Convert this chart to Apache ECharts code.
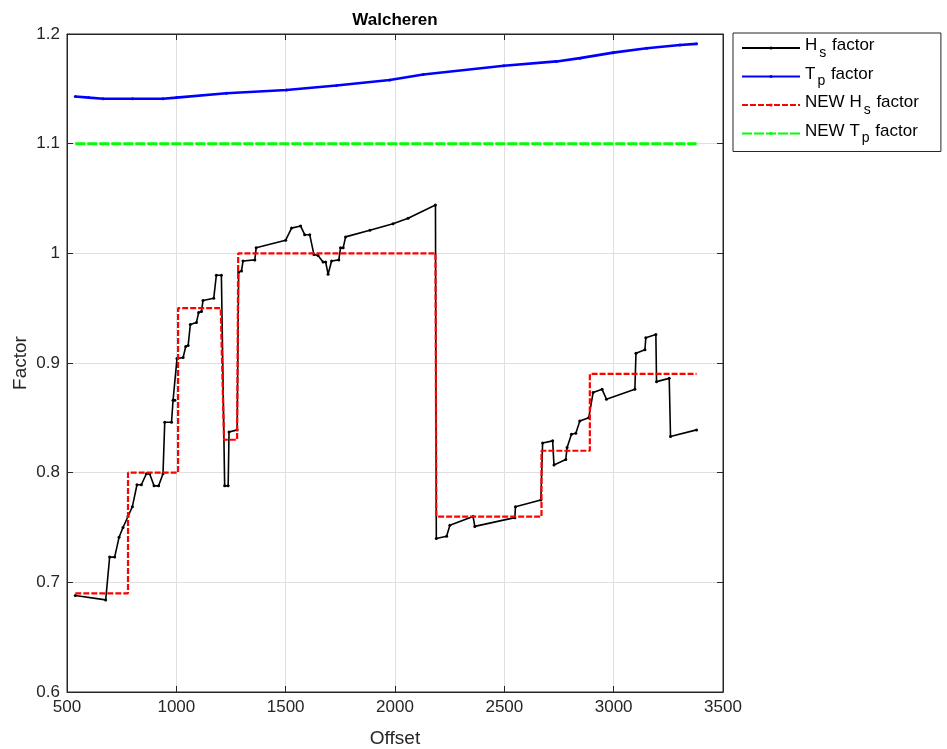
<!DOCTYPE html>
<html><head><meta charset="utf-8">
<script src="https://cdn.jsdelivr.net/npm/echarts@6/dist/echarts.min.js"></script>
<style>html,body{margin:0;padding:0;background:#fff}#c{width:947px;height:749px}</style>
</head><body><div id="c"></div>
<script>
// ---- data ----
const hsX = [538,677,695,718,738,756,779,799,820,840,863,878,898,919,939,947,978,985,993,1003,1031,1043,1054,1064,1092,1102,1115,1122,1171,1183,1206,1221,1237,1241,1278,1285,1298,1305,1359,1365,1500,1527,1568,1587,1610,1629,1648,1671,1683,1694,1710,1743,1751,1763,1774,1885,1991,2060,2185,2189,2236,2251,2357,2365,2548,2551,2667,2675,2721,2727,2781,2787,2807,2827,2845,2886,2906,2947,2967,3097,3102,3143,3147,3193,3196,3254,3260,3379];
const hsY = [0.688,0.684,0.723,0.723,0.741,0.750,0.760,0.769,0.789,0.789,0.799,0.799,0.788,0.788,0.799,0.846,0.846,0.866,0.866,0.904,0.905,0.915,0.916,0.935,0.937,0.946,0.947,0.957,0.959,0.980,0.980,0.788,0.788,0.837,0.839,0.983,0.984,0.993,0.994,1.005,1.012,1.023,1.025,1.017,1.017,0.999,0.998,0.992,0.992,0.981,0.993,0.994,1.005,1.005,1.015,1.021,1.027,1.032,1.044,0.740,0.742,0.752,0.760,0.751,0.759,0.769,0.775,0.827,0.829,0.807,0.812,0.823,0.835,0.836,0.847,0.850,0.873,0.876,0.867,0.876,0.909,0.912,0.923,0.926,0.883,0.886,0.833,0.839];
const tpX = [538,600,665,800,939,1000,1229,1503,1732,1976,2129,2498,2739,2846,2998,3151,3303,3379];
const tpY = [1.143,1.142,1.141,1.141,1.141,1.142,1.146,1.149,1.153,1.158,1.163,1.171,1.175,1.178,1.183,1.187,1.190,1.191];
const newHsX = [538,779,779,1008,1008,1203,1218,1278,1283,2185,2189,2670,2670,2891,2891,3379];
const newHsY = [0.69,0.69,0.80,0.80,0.95,0.95,0.83,0.83,1.0,1.0,0.76,0.76,0.82,0.82,0.89,0.89];
const newTpX = [538,3379];
const newTpY = [1.1,1.1];
const seriesNames = ['Hs factor','Tp factor','NEW Hs factor','NEW Tp factor'];
const legendRich = {
  'Hs factor': '{n|H}{s|s}{n| factor}',
  'Tp factor': '{n|T}{s|p}{n| factor}',
  'NEW Hs factor': '{n|NEW H}{s|s}{n| factor}',
  'NEW Tp factor': '{n|NEW T}{s|p}{n| factor}'
};
const xTicks = {min:500, max:3500, interval:500};
const yTicks = {min:0.6, max:1.2, interval:0.1};

const zip = (a,b)=>a.map((v,i)=>[v,b[i]]);
const FONT = '"Liberation Sans", Arial, sans-serif';
const TXT = '#262626';

const chart = echarts.init(document.getElementById('c'), null, {renderer:'canvas'});
const axisCommonX = {type:'value', min:xTicks.min, max:xTicks.max, interval:xTicks.interval};
const axisCommonY = {type:'value', min:yTicks.min, max:yTicks.max, interval:yTicks.interval};
chart.setOption({
  animation:false,
  backgroundColor:'#fff',
  title:{text:'Walcheren', left:390, top:7, textAlign:'center',
    textStyle:{fontFamily:FONT, fontSize:17, fontWeight:'bold', color:'#000'}},
  grid:{left:67, top:34, right:224, bottom:57, show:true, borderColor:'#262626', borderWidth:1,
    containLabel:false, outerBoundsMode:'none'},
  legend:{
    orient:'vertical', left:733, top:33,
    backgroundColor:'#fff', borderColor:'#262626', borderWidth:1,
    padding:[4,22,6,8], itemGap:5.5, itemWidth:58, itemHeight:4,
    data:seriesNames,
    formatter: n => legendRich[n],
    textStyle:{fontFamily:FONT, color:'#000', rich:{
      n:{fontFamily:FONT, fontSize:17, color:'#000', lineHeight:22, verticalAlign:'top'},
      s:{fontFamily:FONT, fontSize:14, color:'#000', lineHeight:22, verticalAlign:'top', padding:[9,1,0,2]}
    }}
  },
  xAxis:[
    Object.assign({}, axisCommonX, {
      name:'Offset', nameLocation:'middle', nameGap:37, nameMoveOverlap:false,
      nameTextStyle:{fontFamily:FONT, fontSize:19, color:TXT},
      axisLine:{show:true, lineStyle:{color:TXT, width:1}},
      axisTick:{show:true, inside:true, length:6, lineStyle:{color:TXT}},
      axisLabel:{fontFamily:FONT, fontSize:17, color:TXT, margin:7, formatter: v => String(v)},
      splitLine:{show:true, lineStyle:{color:'#dfdfdf', width:1}}
    }),
    Object.assign({}, axisCommonX, {
      position:'top',
      axisLine:{show:true, lineStyle:{color:TXT, width:1}},
      axisTick:{show:true, inside:true, length:6, lineStyle:{color:TXT}},
      axisLabel:{show:false}, splitLine:{show:false}
    })
  ],
  yAxis:[
    Object.assign({}, axisCommonY, {
      name:'Factor', nameLocation:'middle', nameGap:37, nameRotate:90, nameMoveOverlap:false,
      nameTextStyle:{fontFamily:FONT, fontSize:19, color:TXT},
      axisLine:{show:true, lineStyle:{color:TXT, width:1}},
      axisTick:{show:true, inside:true, length:6, lineStyle:{color:TXT}},
      axisLabel:{fontFamily:FONT, fontSize:17, color:TXT, margin:7,
        formatter: v => String(+v.toFixed(1))},
      splitLine:{show:true, lineStyle:{color:'#dfdfdf', width:1}}
    }),
    Object.assign({}, axisCommonY, {
      position:'right',
      axisLine:{show:true, lineStyle:{color:TXT, width:1}},
      axisTick:{show:true, inside:true, length:6, lineStyle:{color:TXT}},
      axisLabel:{show:false}, splitLine:{show:false}
    })
  ],
  series:[
    {name:seriesNames[0], type:'line', data:zip(hsX,hsY), color:'#000',
      symbol:'circle', symbolSize:3, showSymbol:true,
      lineStyle:{color:'#000', width:1.6}, itemStyle:{color:'#000'}, z:4},
    {name:seriesNames[1], type:'line', data:zip(tpX,tpY), color:'#0000ff',
      symbol:'circle', symbolSize:3, showSymbol:true, smooth:false,
      lineStyle:{color:'#0000ff', width:2.6}, itemStyle:{color:'#0000ff'}, z:3},
    {name:seriesNames[2], type:'line', data:zip(newHsX,newHsY), color:'#ff0000',
      symbol:'circle', symbolSize:3, showSymbol:false,
      lineStyle:{color:'#ff0000', width:2.2, type:[6,2]}, itemStyle:{color:'#ff0000'}, z:5},
    {name:seriesNames[3], type:'line', data:zip(newTpX,newTpY), color:'#00ff00',
      symbol:'circle', symbolSize:3, showSymbol:false,
      lineStyle:{color:'#00ff00', width:3, type:[10,2]}, itemStyle:{color:'#00ff00'}, z:3}
  ]
});
</script></body></html>
